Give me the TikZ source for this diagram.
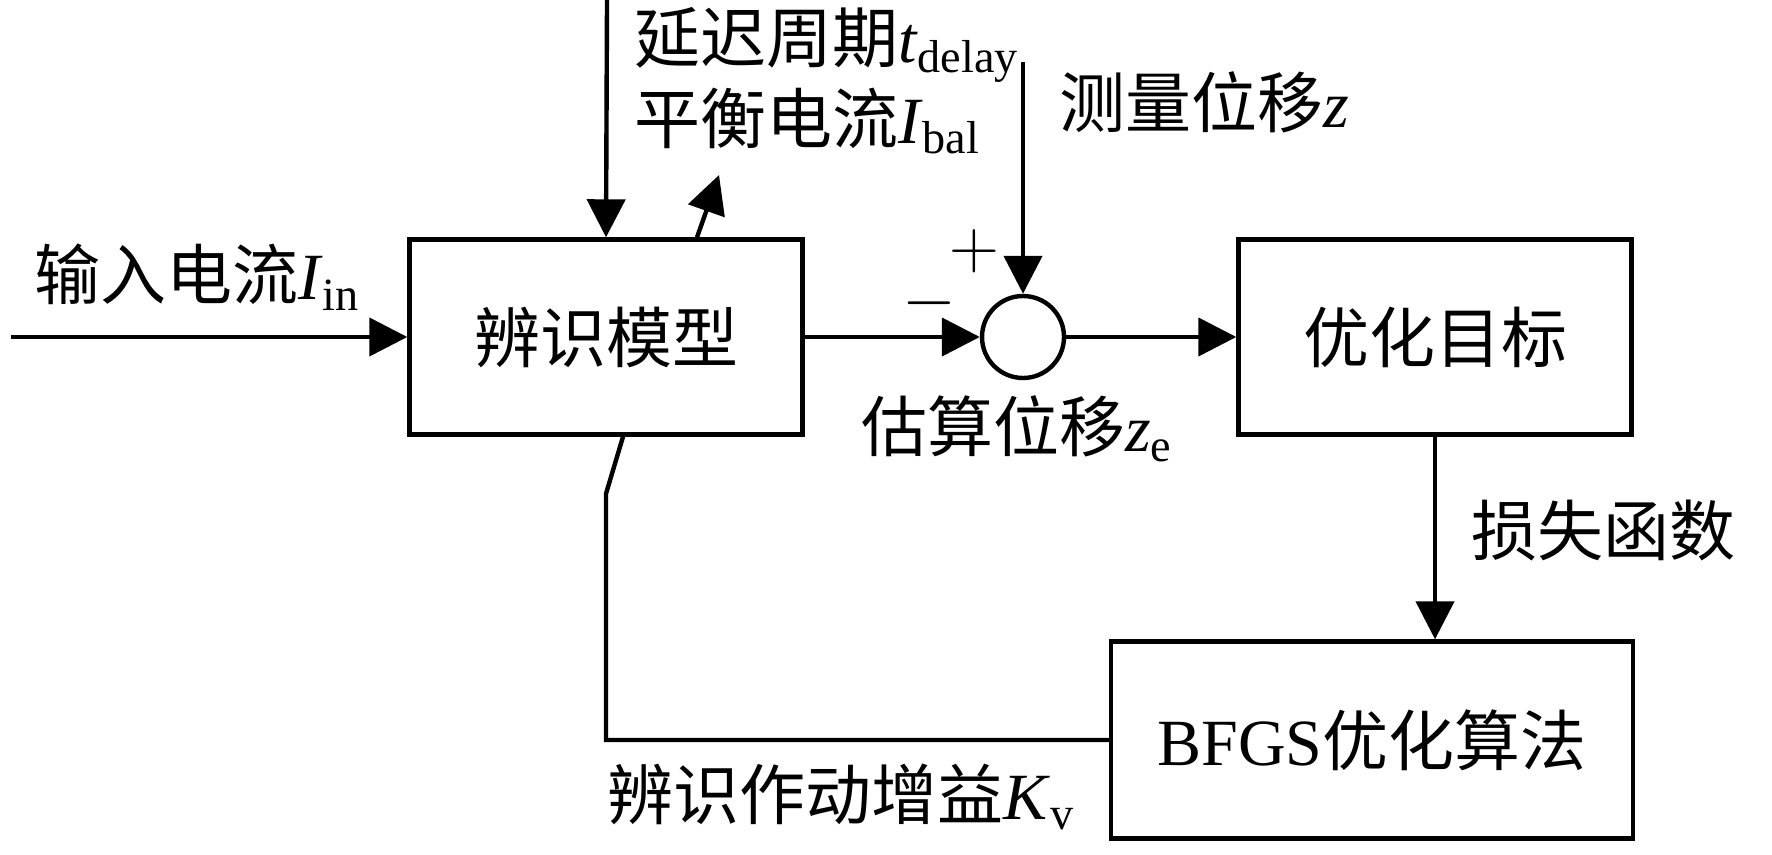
\documentclass[tikz,border=0pt]{standalone}
\usepackage{fontspec}
\setmainfont{Liberation Serif}
\newfontfamily\cjk{Noto Sans CJK SC}
\usetikzlibrary{arrows.meta}
\newcommand\qty[2]{\textit{#1}\textsubscript{#2}}
\begin{document}
\begin{tikzpicture}[x=0.25pt, y=-0.25pt, line width=1.1pt,
    every node/.style = {font=\fontsize{16.5}{20}\selectfont},
    block/.style = {draw, line width=1.1pt, minimum width=98.25pt, minimum height=48.75pt},
    sumnode/.style = {draw, circle, line width=1.1pt, minimum size=20.5pt, inner sep=0pt},
    lbl/.style = {anchor=west, inner sep=0pt},
    sig/.style = {-{Triangle[length=9.5pt,width=9.5pt]}}]
  \useasboundingbox (0,0) rectangle (1772,854);
  % blocks
  \node[block] (model) at (606,337) {\cjk 辨识模型};
  \node[sumnode] (sum) at (1023,337) {};
  \node[block] (target) at (1435,337) {\cjk 优化目标};
  \node[block, minimum width=130.5pt, minimum height=49.25pt] (bfgs) at (1372,740) {BFGS{\cjk 优化算法}};
  % free ends
  \coordinate (src) at (11,337);
  \coordinate (para) at (607,0);
  \coordinate (meas) at (1023,62);
  \coordinate (balout) at (719,175);
  % signals
  \draw[sig] (src) -- (model.west);
  \draw[sig] (para) -- (model.north);
  \draw[sig] ([xshift=22.75pt]model.north) -- (balout);
  \draw[sig] (model.east) -- (sum.west);
  \draw[sig] (meas) -- (sum.north);
  \draw[sig] (sum.east) -- (target.west);
  \draw[sig] (target.south) -- (target.south |- bfgs.north);
  \draw ([xshift=4.25pt]model.south) -- ++(-17,57) |- (bfgs.west);
  % labels
  \node[lbl] (lin) at (32,277) {{\cjk 输入电流}\qty{I}{in}};
  \node[lbl] (ldelay) at (632,45) {{\cjk 延迟周期}\qty{t}{delay}};
  \node[lbl] (lbal) at (632,121) {{\cjk 平衡电流}\qty{I}{bal}};
  \node[lbl] (lmeas) at (1057,102) {{\cjk 测量位移}\textit{z}};
  \node[lbl] (lest) at (859,429) {{\cjk 估算位移}\qty{z}{e}};
  \node[lbl] (lloss) at (1469,531) {\cjk 损失函数};
  \node[lbl] (lgain) at (605,797) {{\cjk 辨识作动增益}\qty{K}{v}};
  \node (minus) at (929,303) {$-$};
  \node (plus) at (974,251) {$+$};
\end{tikzpicture}
\end{document}
